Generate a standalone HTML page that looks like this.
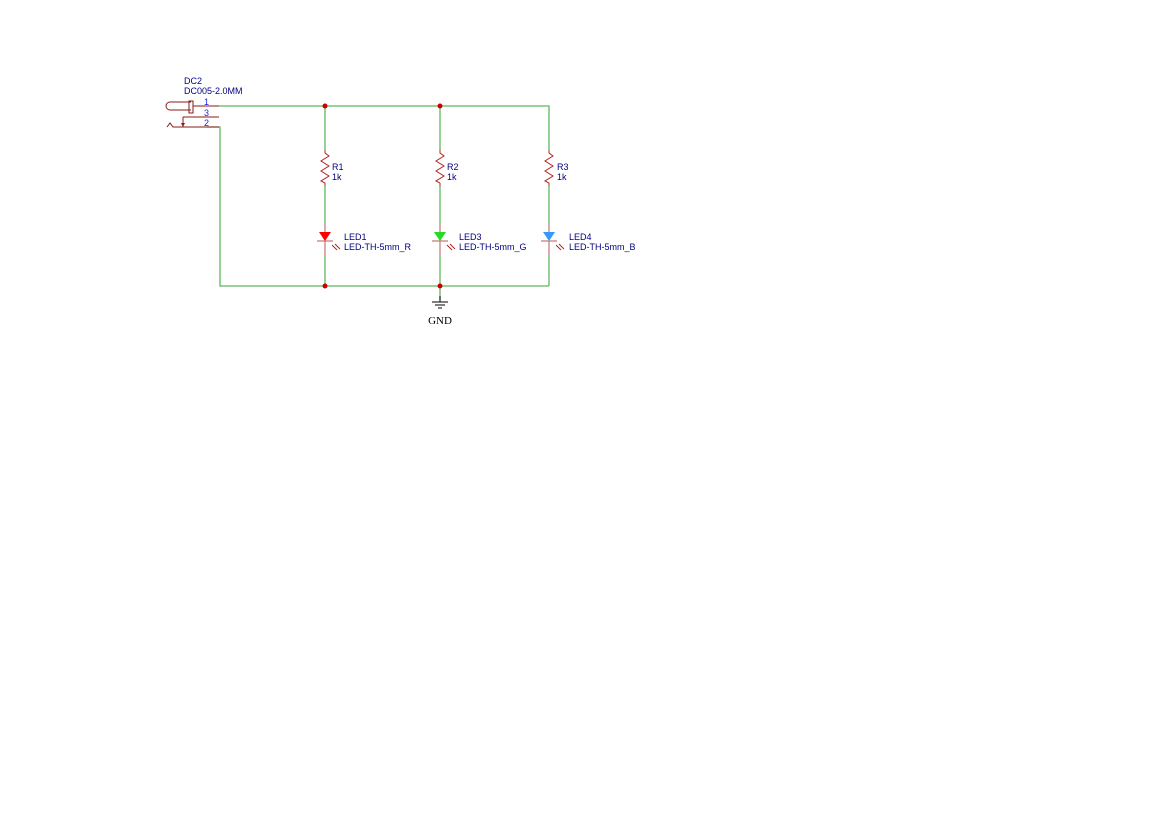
<!DOCTYPE html>
<html><head><style>
html,body{margin:0;padding:0;background:#fff;}
svg{display:block;}
text{font-family:"Liberation Sans",sans-serif;font-size:9px;fill:#000080;}
</style></head><body>
<svg width="1169" height="828" viewBox="0 0 1169 828" xmlns="http://www.w3.org/2000/svg">
<g stroke="#5fb85f" stroke-width="1.3" fill="none">
<polyline points="219,106 549,106 549,150"/>
<line x1="325" y1="106" x2="325" y2="150"/>
<line x1="440" y1="106" x2="440" y2="150"/>
<polyline points="207,127 220,127 220,286 549,286"/>
<line x1="325" y1="186" x2="325" y2="224"/>
<line x1="440" y1="186" x2="440" y2="224"/>
<line x1="549" y1="186" x2="549" y2="224"/>
<line x1="325" y1="255" x2="325" y2="286"/>
<line x1="440" y1="255" x2="440" y2="300"/>
<line x1="549" y1="255" x2="549" y2="286"/>
</g>
<g fill="#cc0000">
<circle cx="325" cy="106" r="2.5"/><circle cx="440" cy="106" r="2.5"/>
<circle cx="325" cy="286" r="2.5"/><circle cx="440" cy="286" r="2.5"/>
</g>
<!-- connector -->
<g stroke="#8b1a1a" stroke-width="1" fill="none">
<path d="M191,102 H170 A4,4 0 0 0 170,110 H191"/>
<rect x="189" y="101" width="4" height="12"/>
<line x1="193" y1="106" x2="219" y2="106"/>
<line x1="183" y1="117" x2="219" y2="117"/>
<line x1="183" y1="117" x2="183" y2="127"/>
<polyline points="167,127 170,123 173,127 219,127"/>
</g>
<path d="M181,123 L185,123 L183,127 Z" fill="#8b1a1a"/>
<text x="184" y="84">DC2</text>
<text x="184" y="94">DC005-2.0MM</text>
<text x="204" y="105" fill="#0000ff" style="fill:#1e1ef0">1</text>
<text x="204" y="116" style="fill:#1e1ef0">3</text>
<text x="204" y="126" style="fill:#1e1ef0">2</text>
<!-- resistors -->
<g stroke="#b22222" stroke-width="1" fill="none">
<polyline points="325,150 325,153 329,156 321,161 329,166 321,171 329,176 321,181 325,183 325,186"/>
<polyline points="440,150 440,153 444,156 436,161 444,166 436,171 444,176 436,181 440,183 440,186"/>
<polyline points="549,150 549,153 553,156 545,161 553,166 545,171 553,176 545,181 549,183 549,186"/>
</g>
<text x="332" y="170">R1</text><text x="332" y="180">1k</text>
<text x="447" y="170">R2</text><text x="447" y="180">1k</text>
<text x="557" y="170">R3</text><text x="557" y="180">1k</text>
<!-- LEDs -->
<g>
<line x1="325" y1="224" x2="325" y2="255" stroke="#c88080" stroke-width="1.3"/>
<line x1="317" y1="241" x2="333" y2="241" stroke="#c88080" stroke-width="1.3"/>
<path d="M319,232 L331,232 L325,241 Z" fill="#ff0000"/>
<line x1="440" y1="224" x2="440" y2="255" stroke="#c88080" stroke-width="1.3"/>
<line x1="432" y1="241" x2="448" y2="241" stroke="#c88080" stroke-width="1.3"/>
<path d="M434,232 L446,232 L440,241 Z" fill="#22dd22"/>
<line x1="549" y1="224" x2="549" y2="255" stroke="#c88080" stroke-width="1.3"/>
<line x1="541" y1="241" x2="557" y2="241" stroke="#c88080" stroke-width="1.3"/>
<path d="M543,232 L555,232 L549,241 Z" fill="#3399ff"/>
</g>
<g stroke="#b22222" stroke-width="1">
<line x1="332" y1="245" x2="337" y2="250"/><line x1="335" y1="244" x2="340" y2="249"/>
<line x1="447" y1="245" x2="452" y2="250"/><line x1="450" y1="244" x2="455" y2="249"/>
<line x1="556" y1="245" x2="561" y2="250"/><line x1="559" y1="244" x2="564" y2="249"/>
</g>
<text x="344" y="240">LED1</text><text x="344" y="250">LED-TH-5mm_R</text>
<text x="459" y="240">LED3</text><text x="459" y="250">LED-TH-5mm_G</text>
<text x="569" y="240">LED4</text><text x="569" y="250">LED-TH-5mm_B</text>
<!-- GND -->
<g stroke="#000" stroke-width="1">
<line x1="440" y1="296" x2="440" y2="302"/>
<line x1="432" y1="302" x2="448" y2="302"/>
<line x1="435" y1="305" x2="445" y2="305"/>
<line x1="438" y1="308" x2="442" y2="308"/>
</g>
<text x="440" y="324" text-anchor="middle" style="fill:#000;font-family:'Liberation Serif',serif;font-size:11px">GND</text>
</svg>
</body></html>
